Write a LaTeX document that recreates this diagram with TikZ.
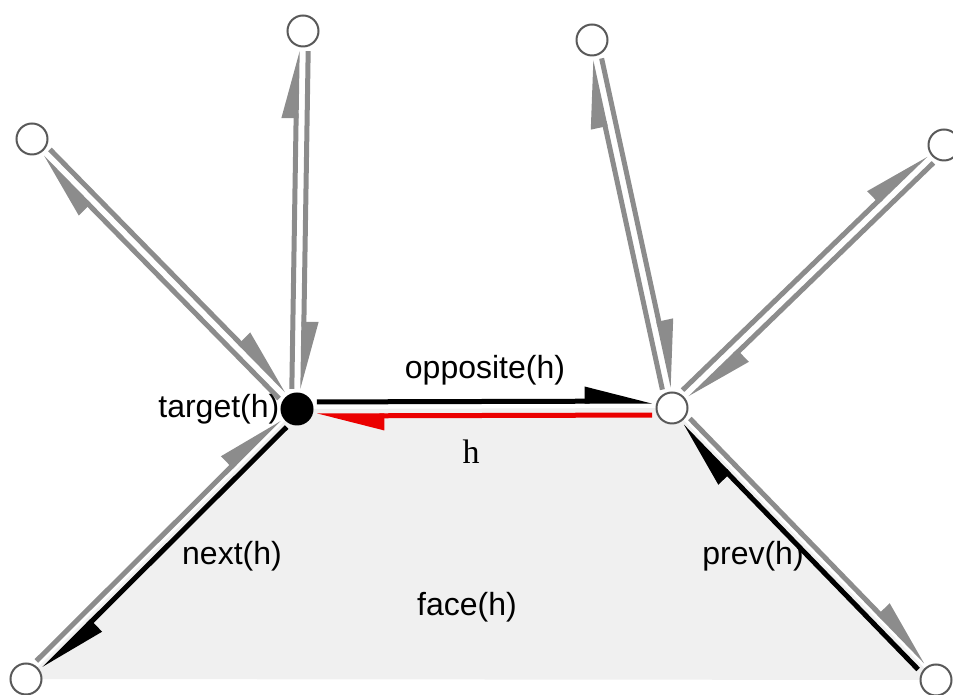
\documentclass[tikz,border=0pt]{standalone}
\usepackage{fontspec}
\setmainfont{Liberation Sans}
\newfontfamily\serifh{Liberation Serif}
\usetikzlibrary{arrows.meta,calc,positioning,backgrounds}

\begin{document}
\begin{tikzpicture}[
  x=1pt,y=1pt,
  vtx/.style={circle,draw=black!65,line width=2pt,fill=white,minimum size=31pt,inner sep=0pt},
  hub/.style={vtx,draw=black,fill=black},
  half/.style={line width=5pt,shorten <=20pt,shorten >=19pt,-{Triangle[harpoon,length=58pt,width=28pt]}},
  lbl/.style={inner sep=0pt,font=\fontsize{32}{38}\selectfont}
]
  \useasboundingbox (0,0) rectangle (953,695);

  % vertices
  \node[hub] (T) at (297,286) {};
  \node[vtx] (V) at (672,287) {};
  \node[vtx] (A1) at (303,664) {};
  \node[vtx] (A2) at (592,655) {};
  \node[vtx] (A3) at (32,556) {};
  \node[vtx] (A4) at (944,550) {};
  \node[vtx] (BL) at (26,16) {};
  \node[vtx] (BR) at (936,15) {};

  % the face of h
  \begin{scope}[on background layer]
    \fill[black!6] (T.center) -- (V.center) -- (BR.center) -- (BL.center) -- cycle;
  \end{scope}

  % half-edges, each one offset to its left
  \foreach \u/\v in {T/A1,A1/T,T/A3,A3/T,BL/T,V/A2,A2/V,V/A4,A4/V,V/BR}
    \draw[half,black!45] ($(\u)!5.5pt!90:(\v)$) -- ($(\v)!5.5pt!-90:(\u)$);
  \draw[half,black] ($(T)!7pt!90:(V)$) -- ($(V)!7pt!-90:(T)$);
  \draw[half,red!92!black] ($(V)!7pt!90:(T)$) -- ($(T)!7pt!-90:(V)$);
  \draw[half,black] ($(T)!5.5pt!90:(BL)$) -- ($(BL)!5.5pt!-90:(T)$);
  \draw[half,black] ($(BR)!5.5pt!90:(V)$) -- ($(V)!5.5pt!-90:(BR)$);

  % labels
  \node[lbl,left=1pt of T] (tgt) {target(h)};
  \node[lbl] (opp) at (485,325) {opposite(h)};
  \node[inner sep=0pt,font=\serifh\fontsize{34}{38}\selectfont] (hh) at (471,243) {h};
  \node[lbl] (nxt) at (232,139) {next(h)};
  \node[lbl] (prv) at (753,139) {prev(h)};
  \node[lbl] (fc) at (467,88) {face(h)};
\end{tikzpicture}
\end{document}
